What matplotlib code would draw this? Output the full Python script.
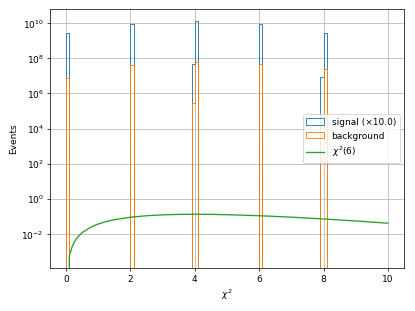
import numpy as np
import matplotlib
matplotlib.use('Agg')
import matplotlib.pyplot as plt

# Histogram bins (width 0.1 from 0 to 10)
bin_edges = np.linspace(0, 10, 101)

# Filled bins (centres) and their contents
bin_centers = [0.05, 2.05, 3.95, 4.05, 6.05, 7.95, 8.05]
signal = [2.7e8, 9.0e8, 5.0e6, 1.3e9, 8.5e8, 9.0e5, 2.9e8]
background = [8.0e6, 4.0e7, 3.0e5, 6.0e7, 5.0e7, 5.0e4, 2.4e7]
signal_scale = 10.0

# chi2(6) curve values
curve_x = [0, 0.1, 0.2, 0.3, 0.4, 0.5, 0.75, 1, 1.25, 1.5, 2, 2.5, 3, 3.5,
           4, 4.5, 5, 6, 7, 8, 9, 10]
curve_y = [0, 0.000594, 0.002262, 0.004841, 0.008187, 0.012169, 0.024163,
           0.037908, 0.052272, 0.066427, 0.091970, 0.111916, 0.125511,
           0.133046, 0.135335, 0.133396, 0.128258, 0.112021, 0.092479,
           0.073263, 0.056239, 0.042112]

fig, ax = plt.subplots(figsize=(6.4, 4.8), dpi=64.85)
fig.subplots_adjust(left=50/415, right=404/415, top=1-9.3/311, bottom=1-268/311)

ax.hist(bin_centers, bins=bin_edges, weights=np.array(signal)*signal_scale,
        histtype='step', color='C0', label='signal (×%.1f)' % signal_scale)
ax.hist(bin_centers, bins=bin_edges, weights=background,
        histtype='step', color='C1', label='background')
ax.plot(curve_x, curve_y, color='C2', label=r'$\chi^2(6)$')

ax.set_yscale('log')
ax.set_ylim(1.2e-4, 6.3e10)
ax.set_xlim(-0.5, 10.5)
ax.grid(True)
ax.set_xlabel(r'$\chi^2$')
ax.set_ylabel('Events')
ax.legend(loc='center right')

fig.savefig('out.png')
